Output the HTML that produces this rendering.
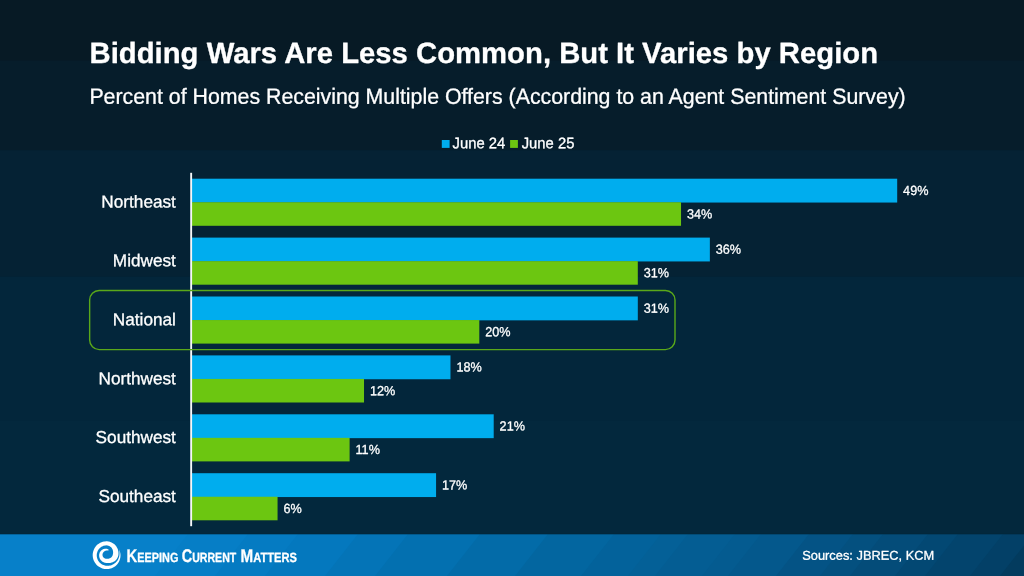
<!DOCTYPE html>
<html><head><meta charset="utf-8">
<style>
html,body{margin:0;padding:0;background:#03263b;}
body{width:1024px;height:576px;overflow:hidden;}
svg{display:block;font-family:"Liberation Sans",Arial,Helvetica,sans-serif;}
text{fill:#fff;white-space:pre;text-rendering:geometricPrecision;stroke:#fff;stroke-width:0.3px;stroke-linejoin:round;}
.cat{font-size:17.2px;text-anchor:end;}
.val{font-size:13.25px;}
.leg{font-size:15.3px;}
</style></head><body>
<svg width="1024" height="576" viewBox="0 0 1024 576">

<rect x="0" y="0.00" width="1024" height="61.10" fill="#071a25"/>
<rect x="0" y="60.60" width="1024" height="90.20" fill="#061d2b"/>
<rect x="0" y="150.30" width="1024" height="126.95" fill="#052234"/>
<rect x="0" y="276.75" width="1024" height="144.35" fill="#03263b"/>
<rect x="0" y="420.60" width="1024" height="113.90" fill="#03283d"/>
<text rotate="0.03" x="89.5" y="63.1" font-size="29.27" font-weight="bold">Bidding Wars Are Less Common, But It Varies by Region</text>
<text rotate="0.03" transform="translate(89.4 103.8) scale(0.9715 1)" font-size="21.95">Percent of Homes Receiving Multiple Offers (According to an Agent Sentiment Survey)</text>
<rect x="441.8" y="140" width="7.8" height="7.9" fill="#00adee"/>
<text rotate="0.03" class="leg" transform="translate(452.6 148.3) scale(0.967 1)">June 24</text>
<rect x="510.1" y="140" width="7.8" height="7.9" fill="#6cc611"/>
<text rotate="0.03" class="leg" transform="translate(521.7 148.3) scale(0.967 1)">June 25</text>
<rect x="191.10" y="178.70" width="706.09" height="23.85" fill="#00adee"/>
<rect x="191.10" y="202.25" width="489.94" height="23.55" fill="#6cc611"/>
<text rotate="0.03" class="cat" x="175.9" y="207.45">Northeast</text>
<text rotate="0.03" class="val" transform="translate(903.09 194.90) scale(0.955 1)">49%</text>
<text rotate="0.03" class="val" transform="translate(686.94 218.45) scale(0.955 1)">34%</text>
<rect x="191.10" y="237.60" width="518.76" height="23.85" fill="#00adee"/>
<rect x="191.10" y="261.15" width="446.71" height="23.55" fill="#6cc611"/>
<text rotate="0.03" class="cat" x="175.9" y="266.35">Midwest</text>
<text rotate="0.03" class="val" transform="translate(715.76 253.80) scale(0.955 1)">36%</text>
<text rotate="0.03" class="val" transform="translate(643.71 277.35) scale(0.955 1)">31%</text>
<rect x="191.10" y="296.50" width="446.71" height="23.85" fill="#00adee"/>
<rect x="191.10" y="320.05" width="288.20" height="23.55" fill="#6cc611"/>
<text rotate="0.03" class="cat" x="175.9" y="325.25">National</text>
<text rotate="0.03" class="val" transform="translate(643.71 312.70) scale(0.955 1)">31%</text>
<text rotate="0.03" class="val" transform="translate(485.20 336.25) scale(0.955 1)">20%</text>
<rect x="191.10" y="355.40" width="259.38" height="23.85" fill="#00adee"/>
<rect x="191.10" y="378.95" width="172.92" height="23.55" fill="#6cc611"/>
<text rotate="0.03" class="cat" x="175.9" y="384.15">Northwest</text>
<text rotate="0.03" class="val" transform="translate(456.38 371.60) scale(0.955 1)">18%</text>
<text rotate="0.03" class="val" transform="translate(369.92 395.15) scale(0.955 1)">12%</text>
<rect x="191.10" y="414.30" width="302.61" height="23.85" fill="#00adee"/>
<rect x="191.10" y="437.85" width="158.51" height="23.55" fill="#6cc611"/>
<text rotate="0.03" class="cat" x="175.9" y="443.05">Southwest</text>
<text rotate="0.03" class="val" transform="translate(499.61 430.50) scale(0.955 1)">21%</text>
<text rotate="0.03" class="val" transform="translate(355.51 454.05) scale(0.955 1)">11%</text>
<rect x="191.10" y="473.20" width="244.97" height="23.85" fill="#00adee"/>
<rect x="191.10" y="496.75" width="86.46" height="23.55" fill="#6cc611"/>
<text rotate="0.03" class="cat" x="175.9" y="501.95">Southeast</text>
<text rotate="0.03" class="val" transform="translate(441.97 489.40) scale(0.955 1)">17%</text>
<text rotate="0.03" class="val" transform="translate(283.46 512.95) scale(0.955 1)">6%</text>
<rect x="190.05" y="172.8" width="1" height="353.4" fill="#ccd3d9"/>
<rect x="191" y="172.8" width="1.1" height="353.4" fill="#f6f8f9"/>
<rect x="89.65" y="290.5" width="585.35" height="59.1" rx="9.5" ry="9.5" fill="none" stroke="#5aa81a" stroke-width="1.4"/>
<rect x="0" y="534" width="1024" height="42" fill="#0780c9"/>
<polygon points="155,576 1100,576 1133,534 188,534" fill="#067ec6"/>
<polygon points="215,576 1100,576 1133,534 248,534" fill="#057bc2"/>
<polygon points="265,576 1100,576 1133,534 298,534" fill="#0478be"/>
<polygon points="325,576 1100,576 1133,534 358,534" fill="#0474b7"/>
<polygon points="375,576 1100,576 1133,534 408,534" fill="#0370b0"/>
<polygon points="447,576 1100,576 1133,534 480,534" fill="#036ba8"/>
<polygon points="515,576 1100,576 1133,534 548,534" fill="#0366a0"/>
<polygon points="581,576 1100,576 1133,534 614,534" fill="#03629b"/>
<polygon points="628,576 1100,576 1133,534 661,534" fill="#046097"/>
<polygon points="655,576 1100,576 1133,534 688,534" fill="#045d93"/>
<polygon points="702,576 1100,576 1133,534 735,534" fill="#045b90"/>
<polygon points="728,576 1100,576 1133,534 761,534" fill="#04588c"/>
<polygon points="776,576 1100,576 1133,534 809,534" fill="#045385"/>
<polygon points="820,576 1100,576 1133,534 853,534" fill="#04507f"/>
<polygon points="850,576 1100,576 1133,534 883,534" fill="#044c79"/>
<polygon points="895,576 1100,576 1133,534 928,534" fill="#034873"/>
<polygon points="925,576 1100,576 1133,534 958,534" fill="#03446d"/>
<polygon points="970,576 1100,576 1133,534 1003,534" fill="#034067"/>
<polygon points="1000,576 1100,576 1133,534 1033,534" fill="#033b5e"/>
<rect x="0" y="533.6" width="1024" height="1" fill="#02253a" opacity="0.5"/>
<path d="M109.27 550.32 L108.97 550.00 L108.64 549.71 L108.27 549.44 L107.87 549.21 L107.44 549.02 L106.99 548.87 L106.52 548.77 L106.04 548.71 L105.55 548.70 L105.06 548.72 L104.56 548.78 L104.06 548.89 L103.57 549.04 L103.08 549.23 L102.61 549.46 L102.16 549.73 L101.72 550.04 L101.31 550.38 L100.92 550.77 L100.57 551.19 L100.24 551.63 L99.96 552.11 L99.71 552.61 L99.50 553.13 L99.34 553.67 L99.22 554.23 L99.14 554.79 L99.12 555.37 L99.14 555.94 L99.20 556.51 L99.31 557.08 L99.47 557.64 L99.67 558.18 L99.91 558.71 L100.19 559.22 L100.51 559.70 L100.87 560.17 L101.26 560.60 L101.68 561.01 L102.13 561.38 L102.61 561.72 L103.11 562.02 L103.64 562.29 L104.18 562.52 L104.74 562.71 L105.32 562.86 L105.90 562.97 L106.50 563.05 L107.10 563.08 L107.70 563.09 L108.32 563.09 L108.95 563.06 L109.59 563.00 L110.24 562.91 L110.90 562.78 L111.57 562.61 L112.24 562.39 L112.91 562.12 L113.58 561.79 L114.23 561.40 L114.87 560.95 L115.48 560.45 L116.05 559.88 L116.58 559.25 L117.06 558.57 L117.48 557.84 L117.84 557.06 L118.12 556.24 L118.32 555.39 L118.44 554.51 L118.50 553.62 L118.49 552.72 L118.40 551.81 L118.25 550.91 L118.03 550.00 L117.73 549.11 L117.36 548.24 L116.91 547.39 L116.40 546.57 L115.82 545.79 L115.17 545.05 L114.46 544.36 L113.68 543.73 L112.86 543.16 L111.98 542.66 L111.06 542.23 L110.11 541.88 L109.12 541.61 L108.11 541.42 L107.08 541.33 L106.05 541.31 L105.02 541.38 L104.00 541.52 L102.98 541.74 L101.99 542.04 L101.02 542.42 L100.08 542.86 L99.17 543.38 L98.31 543.97 L97.49 544.62 L96.72 545.33 L96.01 546.10 L95.35 546.92 L94.77 547.79 L94.25 548.70 L93.80 549.65 L93.42 550.64 L93.12 551.64 L92.90 552.67 L92.75 553.72 L92.69 554.77 L92.71 555.82 L92.80 556.87 L92.98 557.91 L93.23 558.94 L93.56 559.94 L93.96 560.91 L94.44 561.85 L94.98 562.76 L95.59 563.62 L96.26 564.43 L96.99 565.19 L97.78 565.89 L98.61 566.53 L99.50 567.11 L100.42 567.62 L101.38 568.06 L102.37 568.42 L103.38 568.72 L104.41 568.93 L105.46 569.07 L106.51 569.12 L107.56 569.10 L108.61 569.00 L109.65 568.82 L110.67 568.55 L111.67 568.22 L112.63 567.80 L113.57 567.32 L114.46 566.76 L115.30 566.14 L116.10 565.46 L116.84 564.72 L117.52 563.92 L118.14 563.08 L118.69 562.19 L119.18 561.27 L119.59 560.31 L119.92 559.33 L120.18 558.33 L120.37 557.31 L120.47 556.28 L120.50 555.25 L120.45 554.22 L120.31 553.20 L120.09 552.20 L119.80 551.22 L119.42 550.27 L118.99 549.36 L118.99 549.36 L119.24 550.34 L119.41 551.33 L119.52 552.32 L119.55 553.31 L119.51 554.28 L119.42 555.23 L119.25 556.17 L119.02 557.09 L118.72 557.97 L118.37 558.83 L117.95 559.64 L117.48 560.42 L116.95 561.16 L116.38 561.84 L115.77 562.48 L115.12 563.07 L114.43 563.60 L113.71 564.08 L112.97 564.50 L112.20 564.86 L111.42 565.17 L110.62 565.42 L109.81 565.61 L109.00 565.74 L108.19 565.82 L107.37 565.84 L106.57 565.80 L105.77 565.71 L104.98 565.55 L104.21 565.35 L103.46 565.08 L102.74 564.77 L102.04 564.40 L101.38 563.99 L100.75 563.53 L100.15 563.03 L99.60 562.48 L99.09 561.90 L98.63 561.29 L98.21 560.65 L97.84 559.98 L97.53 559.28 L97.26 558.57 L97.05 557.84 L96.90 557.10 L96.80 556.36 L96.75 555.61 L96.76 554.86 L96.82 554.11 L96.94 553.37 L97.11 552.64 L97.33 551.93 L97.60 551.24 L97.92 550.57 L98.29 549.93 L98.71 549.32 L99.17 548.74 L99.67 548.19 L100.21 547.69 L100.79 547.23 L101.40 546.82 L102.04 546.45 L102.70 546.13 L103.39 545.87 L104.09 545.66 L104.81 545.51 L105.53 545.41 L106.26 545.37 L106.99 545.39 L107.70 545.49 L108.40 545.67 L109.08 545.93 L109.71 546.25 L110.30 546.65 L110.84 547.09 L111.33 547.58 L111.75 548.12 L112.12 548.68 L112.43 549.26 L112.67 549.85 L112.86 550.45 L112.99 551.04 L113.07 551.63 L113.11 552.21 L113.10 552.77 L113.06 553.30 L112.98 553.82 L112.89 554.31 L112.77 554.78 L112.64 555.23 L112.47 555.65 L112.27 556.06 L112.05 556.43 L111.80 556.78 L111.52 557.10 L111.23 557.38 L110.93 557.64 L110.61 557.86 L110.29 558.06 L109.96 558.23 L109.64 558.37 L109.31 558.48 L108.99 558.58 L108.68 558.65 L108.37 558.71 L108.07 558.75 L107.77 558.78 L107.48 558.80 L107.20 558.81 L106.91 558.81 L106.63 558.81 L106.35 558.80 L106.07 558.76 L105.79 558.72 L105.52 558.65 L105.24 558.57 L104.97 558.46 L104.71 558.34 L104.45 558.20 L104.21 558.04 L103.97 557.87 L103.74 557.67 L103.53 557.46 L103.33 557.23 L103.15 556.98 L102.99 556.72 L102.85 556.44 L102.73 556.15 L102.63 555.85 L102.56 555.55 L102.51 555.23 L102.49 554.91 L102.50 554.59 L102.53 554.27 L102.59 553.96 L102.68 553.64 L102.78 553.34 L102.92 553.04 L103.07 552.75 L103.24 552.48 L103.44 552.22 L103.66 551.97 L103.89 551.74 L104.14 551.53 L104.41 551.33 L104.69 551.15 L104.98 551.00 L105.28 550.86 L105.60 550.74 L105.92 550.64 L106.25 550.57 L106.59 550.52 L106.93 550.48 L107.28 550.43 L107.65 550.38 L108.03 550.32 L108.43 550.29 L108.85 550.28 L109.27 550.32Z" fill="#fff"/>
<g transform="translate(126.5 561.9) scale(0.812 1)"><text rotate="0.03" x="0" y="0" font-weight="bold" stroke="none"><tspan font-size="18.3">K</tspan><tspan font-size="13.4">EEPING</tspan></text></g>
<g transform="translate(181.8 561.9) scale(0.789 1)"><text rotate="0.03" x="0" y="0" font-weight="bold" stroke="none"><tspan font-size="18.3">C</tspan><tspan font-size="13.4">URRENT</tspan></text></g>
<g transform="translate(240.6 561.9) scale(0.831 1)"><text rotate="0.03" x="0" y="0" font-weight="bold" stroke="none"><tspan font-size="18.3">M</tspan><tspan font-size="13.4">ATTERS</tspan></text></g>
<text rotate="0.03" x="802.2" y="559.8" font-size="12.84">Sources: JBREC, KCM</text>
</svg></body></html>
